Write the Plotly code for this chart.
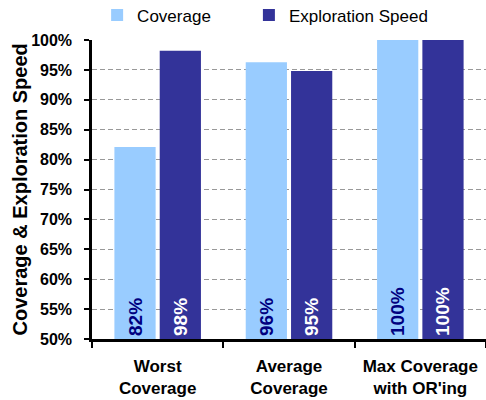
import plotly.graph_objects as go

categories = ["Worst<br>Coverage", "Average<br>Coverage", "Max Coverage<br>with OR'ing"]
coverage = [82.1, 96.3, 100.0]
exploration_speed = [98.2, 94.8, 100.0]
coverage_labels = ["82%", "96%", "100%"]
speed_labels = ["98%", "95%", "100%"]
series_names = ["Coverage", "Exploration Speed"]
y_title = "Coverage & Exploration Speed"
y_min, y_max = 50, 100

FONT = "Liberation Sans, Arial, sans-serif"
PAD = "\u00a0" * 7

fig = go.Figure()
fig.add_trace(go.Bar(
    name=series_names[0] + PAD, x=categories, y=[v - y_min for v in coverage], base=y_min,
    marker=dict(color="#99CCFF", line=dict(width=0)),
    text=coverage_labels, textposition="inside", insidetextanchor="start", textangle=-90,
    textfont=dict(family=FONT, size=19, color="#000080", weight="bold"),
))
fig.add_trace(go.Bar(
    name=series_names[1], x=categories, y=[v - y_min for v in exploration_speed], base=y_min,
    marker=dict(color="#333399", line=dict(width=0)),
    text=speed_labels, textposition="inside", insidetextanchor="start", textangle=-90,
    textfont=dict(family=FONT, size=19, color="white", weight="bold"),
))

fig.update_layout(
    width=486, height=400,
    margin=dict(l=92, r=0, t=40, b=61, autoexpand=False),
    paper_bgcolor="white", plot_bgcolor="white",
    barmode="group", bargap=0.31, bargroupgap=0.09,
    font=dict(family=FONT, color="black"),
    showlegend=True,
    legend=dict(orientation="h", x=0.013, y=1.022, xanchor="left", yanchor="bottom",
                font=dict(family=FONT, size=17, color="black"),
                bgcolor="rgba(0,0,0,0)"),
    annotations=[dict(
        text=y_title, xref="paper", yref="paper", x=-73 / 394, y=0.5,
        xanchor="center", yanchor="middle", textangle=-90, showarrow=False,
        font=dict(family=FONT, size=20, color="black", weight="bold"),
    )],
)
fig.update_xaxes(
    automargin=False,
    showline=True, linecolor="black", linewidth=2.5,
    ticks="outside", tickson="boundaries", ticklen=6, tickwidth=2, tickcolor="black",
    tickfont=dict(family=FONT, size=17, color="black", weight="bold"),
    ticklabelstandoff=10, showgrid=False,
)
fig.update_yaxes(
    automargin=False,
    range=[y_min, y_max], dtick=5, ticksuffix="%",
    showline=True, linecolor="black", linewidth=2.5,
    ticks="outside", ticklen=5, tickwidth=2, tickcolor="black",
    tickfont=dict(family=FONT, size=16, color="black", weight="bold"),
    ticklabelstandoff=9,
    showgrid=True, gridcolor="#999999", gridwidth=1, griddash="5px,3px",
    zeroline=False,
)

fig.write_html("out.html", config={"displayModeBar": False},
               post_script="document.body.style.margin='0';")
